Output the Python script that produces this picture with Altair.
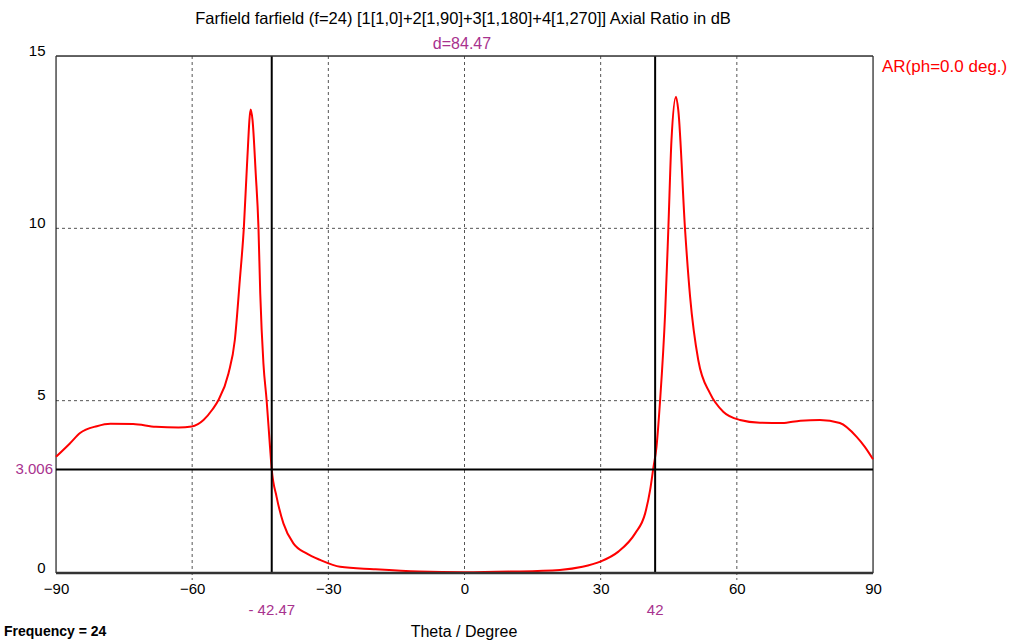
import altair as alt
import pandas as pd

# ---- data ----
theta = [-90, -87, -84.7, -81, -78, -73, -68, -63, -60.1, -57.5, -55.5, -54.2, -52, -50.6,
         -49.5, -48.6, -47.9, -47.1, -46.7, -46, -45.4, -45, -44.3, -43.6, -42.85, -42.47,
         -41.4, -39.9, -37.7, -34.8, -31.8, -27.4, -20, -10, 0, 10, 21, 26, 29.9, 33.9,
         37.6, 39.8, 40.9, 41.6, 42.3, 43.1, 44.2, 44.9, 45.6, 46.6, 47.1, 48.6, 49.7,
         51.5, 54.1, 57, 60.7, 65.1, 70, 74, 78.3, 82.7, 86.4, 88.2, 90]
ar_db = [3.37, 3.75, 4.06, 4.26, 4.33, 4.32, 4.24, 4.22, 4.25, 4.44, 4.75, 5.02, 5.79, 6.76,
         8.5, 10.05, 11.89, 13.45, 13.14, 11.6, 10.05, 8.11, 6.08, 5.02, 3.66, 3.01,
         2.21, 1.44, 0.86, 0.57, 0.38, 0.18, 0.11, 0.04, 0.02, 0.04, 0.09, 0.18, 0.33, 0.62,
         1.15, 1.73, 2.41, 3.04, 3.66, 5.02, 7.53, 9.95, 12.56, 13.82, 13.43, 9.95, 8.02,
         6.18, 5.21, 4.68, 4.44, 4.36, 4.35, 4.42, 4.44, 4.35, 3.95, 3.66, 3.3]

x_ticks = [-90, -60, -30, 0, 30, 60, 90]
y_ticks = [0, 5, 10, 15]
x_grid = [-60, -30, 0, 30, 60]
y_grid = [5, 10]
marker_x = [-42.47, 42]
marker_x_labels = ["- 42.47", "42"]
marker_y = [3.006]
marker_y_labels = ["3.006"]

FONT = "Liberation Sans"
MAG = "#A8328E"
W, H = 817, 517

curve_df = pd.DataFrame({"theta": theta, "ar": ar_db})
xg_df = pd.DataFrame({"x": x_grid})
yg_df = pd.DataFrame({"y": y_grid})
mx_df = pd.DataFrame({"x": marker_x, "label": marker_x_labels})
my_df = pd.DataFrame({"y": marker_y, "label": marker_y_labels})

xscale = alt.Scale(domain=[-90, 90], nice=False, zero=False)
yscale = alt.Scale(domain=[0, 15], nice=False, zero=False)

base_x = alt.X("theta:Q", scale=xscale,
               axis=alt.Axis(values=x_ticks, title=None, grid=False, domain=False, ticks=False,
                             labelFont=FONT, labelFontSize=15, labelColor="black",
                             labelPadding=8, labelFlush=False))
base_y = alt.Y("ar:Q", scale=yscale,
               axis=alt.Axis(values=y_ticks, title=None, grid=False, domain=False, ticks=False,
                             labelFont=FONT, labelFontSize=15, labelColor="black",
                             labelPadding=11, labelBaseline="alphabetic", labelOffset=-1))

vgrid = alt.Chart(xg_df).mark_rule(color="#555555", strokeDash=[3, 3], strokeWidth=1).encode(
    x=alt.X("x:Q", scale=xscale), y=alt.value(0), y2=alt.value(H + 7))
hgrid = alt.Chart(yg_df).mark_rule(color="#555555", strokeDash=[3, 3], strokeWidth=1).encode(
    y=alt.Y("y:Q", scale=yscale), x=alt.value(0), x2=alt.value(W))

bottom = alt.Chart(pd.DataFrame({"y": [0]})).mark_rule(color="#333333", strokeWidth=2.5).encode(
    y=alt.Y("y:Q", scale=yscale), x=alt.value(0), x2=alt.value(W))
top = alt.Chart(pd.DataFrame({"y": [15]})).mark_rule(color="#333333", strokeWidth=1.5).encode(
    y=alt.Y("y:Q", scale=yscale), x=alt.value(0), x2=alt.value(W))
sides = alt.Chart(pd.DataFrame({"x": [-90, 90]})).mark_rule(color="black", strokeWidth=1).encode(
    x=alt.X("x:Q", scale=xscale), y=alt.value(0), y2=alt.value(H))

curve = alt.Chart(curve_df).mark_line(color="#FF0000", strokeWidth=2,
                                      interpolate="monotone").encode(x=base_x, y=base_y)

mvert = alt.Chart(mx_df).mark_rule(color="black", strokeWidth=2).encode(
    x=alt.X("x:Q", scale=xscale), y=alt.value(0), y2=alt.value(H))
mhorz = alt.Chart(my_df).mark_rule(color="black", strokeWidth=2).encode(
    y=alt.Y("y:Q", scale=yscale), x=alt.value(0), x2=alt.value(W))

mx_text = alt.Chart(mx_df).mark_text(font=FONT, fontSize=15, color=MAG, baseline="middle",
                                     align="center").encode(
    x=alt.X("x:Q", scale=xscale), y=alt.value(554), text="label:N")
my_text = alt.Chart(my_df).mark_text(font=FONT, fontSize=15, color=MAG, baseline="middle",
                                     align="right").encode(
    y=alt.Y("y:Q", scale=yscale), x=alt.value(-3), text="label:N")

def label(txt, x, y, size, color="black", align="center", weight="normal"):
    return alt.Chart(pd.DataFrame({"t": [txt]})).mark_text(
        font=FONT, fontSize=size, color=color, align=align, baseline="middle",
        fontWeight=weight).encode(x=alt.value(x), y=alt.value(y), text="t:N")

title = label("Farfield farfield (f=24) [1[1,0]+2[1,90]+3[1,180]+4[1,270]] Axial Ratio in dB",
              407, -37, 16.5)
dlab = label("d=84.47", 406, -12, 16, color=MAG)
arlab = label("AR(ph=0.0 deg.)", 826, 11, 17, color="#FF0000", align="left")
freq = label("Frequency = 24", -52, 576, 14, align="left", weight="bold")
xtitle = label("Theta / Degree", 408, 576, 16)

chart = alt.layer(vgrid, hgrid, sides, curve, mvert, mhorz, bottom, top,
                  mx_text, my_text, title, dlab, arlab, freq, xtitle).properties(
    width=W, height=H,
    autosize=alt.AutoSizeParams(type="none"),
    padding={"left": 56, "top": 56, "right": 1014 - 56 - W, "bottom": 644 - 56 - H},
).configure_view(stroke=None).configure(background="white")

chart.save("out.html", embed_options={"renderer": "svg", "actions": False})
